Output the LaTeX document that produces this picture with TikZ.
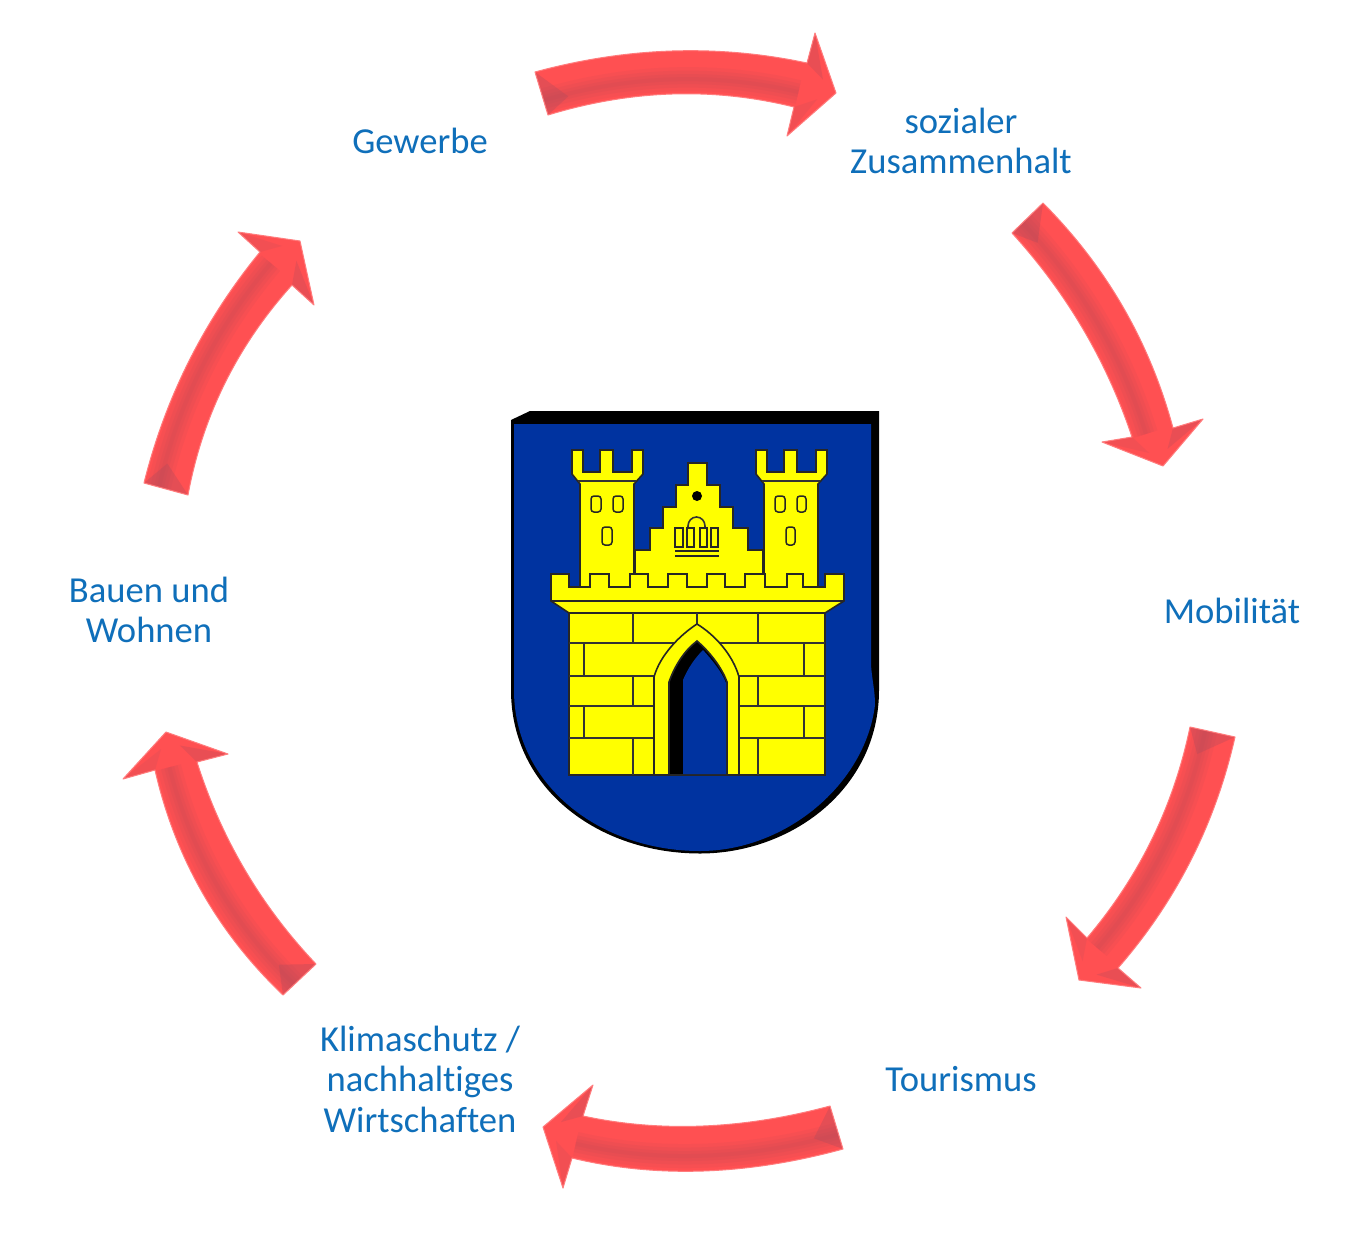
\documentclass[tikz,border=0pt]{standalone}
\usepackage{fontspec}
\setmainfont[Ligatures=NoCommon]{Carlito}
\usetikzlibrary{calc}

\definecolor{arrowred}{HTML}{FF5052}
\definecolor{arrowdark}{HTML}{A84A5C}
\definecolor{labelblue}{HTML}{0F6FBA}
\definecolor{shieldblue}{HTML}{0033A0}
\definecolor{castleyellow}{HTML}{FFFF00}

\tikzset{
  label/.style={text=labelblue,align=center,font=\fontsize{36.6}{40.5}\selectfont,inner sep=0pt},
  castle/.style={draw=black!85,line width=1.6pt,line join=miter},
  joint/.style={draw=black!80,line width=1.6pt},
  hole/.style={draw=black!85,line width=1.5pt,fill=castleyellow,rounded corners=3pt},
}

% tail, middle, notch of the first side, head, tip, head, notch, middle, tail of the second side
\newcommand{\redarrow}[9]{
  \coordinate (to) at (#1);
  \coordinate (mo) at (#2);
  \coordinate (no) at (#3);
  \coordinate (ho) at (#4);
  \coordinate (tip) at (#5);
  \coordinate (hi) at (#6);
  \coordinate (ni) at (#7);
  \coordinate (mi) at (#8);
  \coordinate (ti) at (#9);
  \coordinate (qo) at ($2*(mo)-0.5*(to)-0.5*(no)$);
  \coordinate (qi) at ($2*(mi)-0.5*(ti)-0.5*(ni)$);
  \coordinate (tb) at ($(to)!.66!(ti)$);
  \coordinate (mb) at ($(mo)!.66!(mi)$);
  \coordinate (nb) at ($(no)!.66!(ni)$);
  \coordinate (qb) at ($2*(mb)-0.5*(tb)-0.5*(nb)$);
  \def\arrowpath{(to) .. controls ($(to)!.6667!(qo)$) and ($(no)!.6667!(qo)$) .. (no) -- (ho) -- (tip) -- (hi) -- (ni)
    .. controls ($(ni)!.6667!(qi)$) and ($(ti)!.6667!(qi)$) .. (ti) -- cycle}
  \fill[arrowred] \arrowpath;
  \begin{scope}
    \clip \arrowpath;
    \foreach \bandwidth in {24,17,10,4}
      \draw[arrowdark,opacity=.09,line width=\bandwidth pt] (tb) .. controls ($(tb)!.6667!(qb)$) and ($(nb)!.6667!(qb)$) .. (nb);
    \fill[arrowdark,opacity=.3] (to) -- (ti) -- ($(tb)!25pt!(mb)$) -- cycle;
    \fill[arrowdark,opacity=.25] (ho) -- (no) -- ($(no)!.55!(tip)$) -- cycle;
    \fill[arrowdark,opacity=.15] (hi) -- (ni) -- ($(ni)!.55!(tip)$) -- cycle;
  \end{scope}
  \draw[arrowred!75!white,line width=1pt,line join=round] \arrowpath;
}

\begin{document}
\begin{tikzpicture}[x=1pt,y=-1pt]
  \useasboundingbox (0,0) rectangle (1352,1235);
  \fill[white] (0,0) rectangle (1352,1235);

  % arrows
  \redarrow{535,72}{672,51}{807,63}{815,33}{836,93}{787,136}{794,107}{672,94}{548,115}
  \redarrow{1043,203}{1123,307}{1173,428}{1203,419}{1163,466}{1102,442}{1132,437}{1083,329}{1012,233}
  \redarrow{1235,737}{1191,860}{1118,968}{1141,988}{1079,980}{1066,917}{1087,938}{1152,839}{1190,727}
  \redarrow{830,1106}{703,1126}{583,1116}{593,1085}{543,1127}{563,1188}{572,1158}{703,1171}{843,1149}
  \redarrow{316,964}{245,870}{197,762}{228,754}{166,732}{123,779}{155,770}{202,892}{283,995}
  \redarrow{188,495}{225,383}{292,285}{314,305}{300,241}{238,232}{260,252}{189,361}{144,483}

  % labels
  \node[label] (gewerbe) at (420,141) {Gewerbe};
  \node[label] (sozial) at (961,141) {sozialer\\Zusammenhalt};
  \node[label] (mobil) at (1232,611) {Mobilität};
  \node[label] (tourismus) at (961,1079) {Tourismus};
  \node[label] (klima) at (420,1079) {Klimaschutz /\\nachhaltiges\\Wirtschaften};
  \node[label] (bauen) at (149,610) {Bauen und\\Wohnen};

  % shield
  \fill[black] (511,420) -- (530,411) -- (879,411) -- (879,690)
    .. controls (879,790) and (790,853.5) .. (700,853.5)
    .. controls (600,853.5) and (511,790) .. (511,690) -- cycle;
  \fill[shieldblue] (514,424) -- (871,424) -- (871,665) .. controls (872,680) and (875,690) .. (875,705)
    .. controls (865,785) and (785,851) .. (700,851)
    .. controls (600,851) and (514,785) .. (514,690) -- cycle;

  % towers
  \foreach \towerx in {0,184}{
    \begin{scope}[xshift=\towerx pt]
      \draw[castle,fill=castleyellow] (580,590) -- (580,484) -- (572,474) -- (572,450) -- (583,450) -- (583,472)
        -- (600,472) -- (600,450) -- (613,450) -- (613,472) -- (632,472) -- (632,450) -- (643,450)
        -- (643,474) -- (634,484) -- (634,590) -- cycle;
      \draw[joint] (578,481) -- (636,481);
    \end{scope}
  }

  % windows
  \foreach \holex/\holey/\holew/\holeh in {591/496/10/16,613/496/10/16,602/527/10/18,775/496/10/16,797/496/9/16,786/527/9/18}
    \draw[hole] (\holex,\holey+\holeh) rectangle ++(\holew,-\holeh);

  % gable
  \draw[castle,fill=castleyellow] (635,590) -- (635,550) -- (650,550) -- (650,528) -- (663,528) -- (663,507) -- (676,507)
    -- (676,485) -- (688,485) -- (688,463) -- (707,463) -- (707,485) -- (720,485) -- (720,507) -- (733,507)
    -- (733,528) -- (748,528) -- (748,550) -- (763,550) -- (763,590) -- cycle;
  \fill[black] (697,496) circle (5);
  \draw[joint] (688,528) -- (688,526) arc (180:360:8.5 and 9) -- (705,528);
  \foreach \panex/\panew in {675/8,687/7,700/7,711/7}
    \draw[castle,line width=1.3pt] (\panex,528) rectangle ++(\panew,19);
  \draw[castle] (675,551) -- (719,551);
  \draw[castle] (675,556) -- (719,556);

  % battlement
  \draw[castle,fill=castleyellow] (569,613) -- (551,601) -- (551,574) -- (569,574) -- (569,587) -- (590,587) -- (590,574)
    -- (609,574) -- (609,587) -- (630,587) -- (630,574) -- (648,574) -- (648,587) -- (668,587) -- (668,574)
    -- (687,574) -- (687,587) -- (707,587) -- (707,574) -- (725,574) -- (725,587) -- (745,587) -- (745,574)
    -- (765,574) -- (765,587) -- (787,587) -- (787,574) -- (803,574) -- (803,587) -- (825,587) -- (825,574)
    -- (844,574) -- (844,601) -- (825,613) -- cycle;
  \draw[castle] (551,601) -- (844,601);

  % wall
  \draw[castle,fill=castleyellow] (569,613) rectangle (825,775);
  \foreach \jointy in {643,676,706,738}
    \draw[joint] (569,\jointy) -- (825,\jointy);
  \foreach \jointx/\jointa/\jointb in {633/613/643,697/613/625,758/613/643,584/643/676,804/643/676,633/676/706,758/676/706,584/706/738,804/706/738,633/738/775,758/738/775}
    \draw[joint] (\jointx,\jointa) -- (\jointx,\jointb);

  % gate
  \draw[castle,fill=castleyellow] (654,775) -- (654,677) .. controls (660,655) and (680,635) .. (697,624)
    .. controls (715,635) and (733,655) .. (739,677) -- (739,775) -- cycle;
  \draw[castle,fill=black] (669,775) -- (669,682) .. controls (675,665) and (685,650) .. (697,641)
    .. controls (710,652) and (722,668) .. (727,682) -- (727,775) -- cycle;
  \fill[shieldblue] (683,774) -- (683,680) .. controls (688,668) and (695,658) .. (703,650)
    .. controls (712,660) and (722,672) .. (726,683) -- (726,774) -- cycle;
\end{tikzpicture}
\end{document}
